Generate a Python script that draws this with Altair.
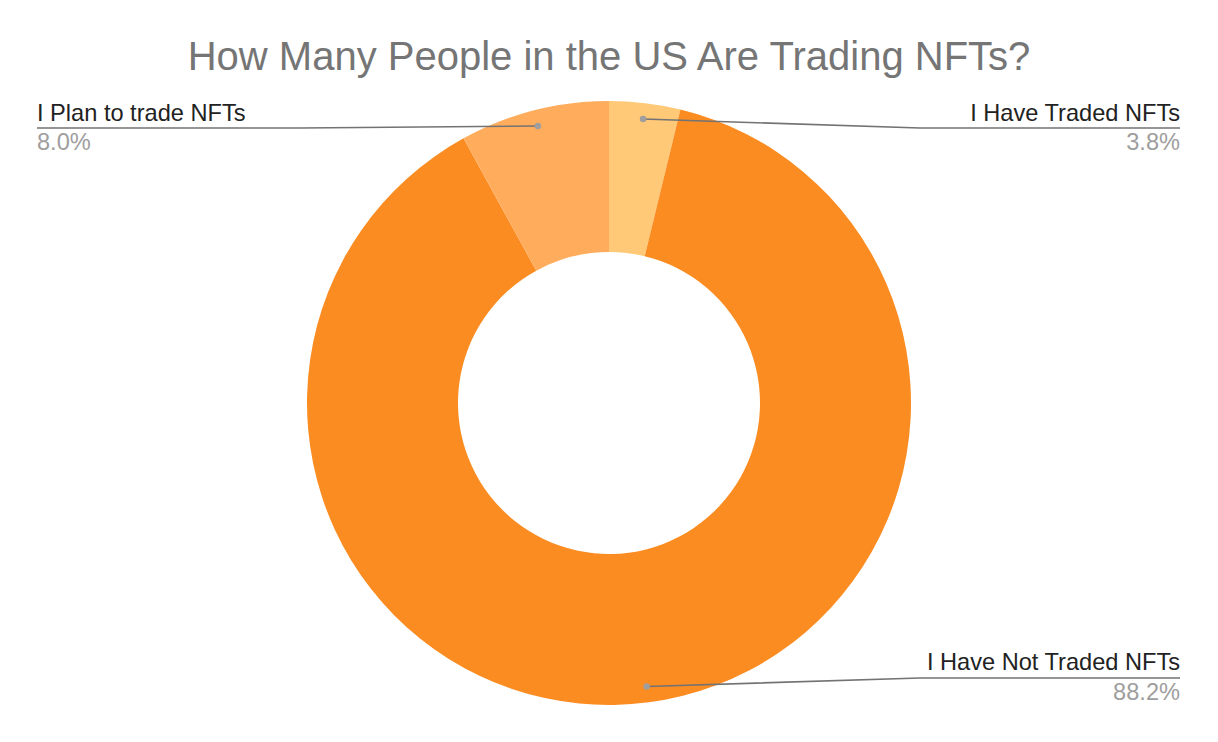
import math
import altair as alt
import pandas as pd

# ---- data ----
categories = ["I Have Traded NFTs", "I Have Not Traded NFTs", "I Plan to trade NFTs"]
shares = [3.8, 88.2, 8.0]
colors = ["#FFC977", "#FB8C22", "#FFAD5C"]
pct_labels = ["3.8%", "88.2%", "8.0%"]
title_text = "How Many People in the US Are Trading NFTs?"

# ---- layout (pixels inside the chart) ----
W, H = 1202, 726
CX, CY = 601, 395
R_OUT, R_IN, R_DOT = 302, 151, 286
label_side = ["right", "right", "left"]
label_row = ["top", "bottom", "top"]
ROW_Y = {"top": (113, 120, 142), "bottom": (662, 670, 692)}   # name baseline, rule y, pct baseline
SIDE_X = {"right": (1172, 912), "left": (29, 292)}             # text x, bend x

df = pd.DataFrame({"cat": categories, "share": shares, "idx": range(len(categories)),
                   "pct": pct_labels})

# leader line points computed from the slice mid-angles
total = sum(shares)
line_rows, dot_rows, text_rows = [], [], []
cum = 0.0
for i, (c, s) in enumerate(zip(categories, shares)):
    mid = (cum + s / 2) / total * 2 * math.pi
    cum += s
    dx = CX + R_DOT * math.sin(mid)
    dy = CY - R_DOT * math.cos(mid)
    name_y, rule_y, pct_y = ROW_Y[label_row[i]]
    tx, bx = SIDE_X[label_side[i]]
    line_rows += [
        {"cat": c, "o": 0, "x": dx, "y": dy},
        {"cat": c, "o": 1, "x": bx, "y": rule_y},
        {"cat": c, "o": 2, "x": tx, "y": rule_y},
    ]
    dot_rows.append({"cat": c, "x": dx, "y": dy})
    text_rows.append({"t": c, "x": tx, "y": name_y, "kind": "name", "side": label_side[i]})
    text_rows.append({"t": pct_labels[i], "x": tx, "y": pct_y, "kind": "pct", "side": label_side[i]})

lines_df = pd.DataFrame(line_rows)
dots_df = pd.DataFrame(dot_rows)
text_df = pd.DataFrame(text_rows)

xs = alt.Scale(domain=[0, W], range=[0, W])
ys = alt.Scale(domain=[0, H], range=[0, H])

arc = alt.Chart(df).mark_arc(innerRadius=R_IN, outerRadius=R_OUT, x=CX, y=CY, stroke=None).encode(
    theta=alt.Theta("share:Q", stack=True),
    order=alt.Order("idx:Q"),
    color=alt.Color("cat:N", scale=alt.Scale(domain=categories, range=colors), legend=None),
)

lines = alt.Chart(lines_df).mark_line(color="#737373", strokeWidth=1.6).encode(
    x=alt.X("x:Q", scale=xs, axis=None),
    y=alt.Y("y:Q", scale=ys, axis=None),
    detail="cat:N",
    order="o:Q",
)

dots = alt.Chart(dots_df).mark_circle(color="#9E9E9E", opacity=1, size=42).encode(
    x=alt.X("x:Q", scale=xs, axis=None),
    y=alt.Y("y:Q", scale=ys, axis=None),
)

def txt(kind, side, color):
    sub = text_df[(text_df.kind == kind) & (text_df.side == side)]
    return alt.Chart(sub).mark_text(align=side, baseline="alphabetic", font="Liberation Sans",
                                    fontSize=23.6, color=color).encode(
        x=alt.X("x:Q", scale=xs, axis=None),
        y=alt.Y("y:Q", scale=ys, axis=None),
        text="t:N",
    )

texts = [txt("name", "left", "#222222"), txt("name", "right", "#222222"),
         txt("pct", "left", "#9E9E9E"), txt("pct", "right", "#9E9E9E")]

title = alt.Chart(pd.DataFrame({"t": [title_text], "x": [CX], "y": [62]})).mark_text(
    align="center", baseline="alphabetic", font="Liberation Sans", fontSize=40, color="#757575"
).encode(
    x=alt.X("x:Q", scale=xs, axis=None),
    y=alt.Y("y:Q", scale=ys, axis=None),
    text="t:N",
)

chart = alt.layer(arc, lines, dots, *texts, title).properties(
    width=W, height=H, autosize=alt.AutoSizeParams(type="none"), padding=0
).configure_view(stroke=None)

chart.save("out.html", embed_options={"renderer": "svg", "actions": False})
